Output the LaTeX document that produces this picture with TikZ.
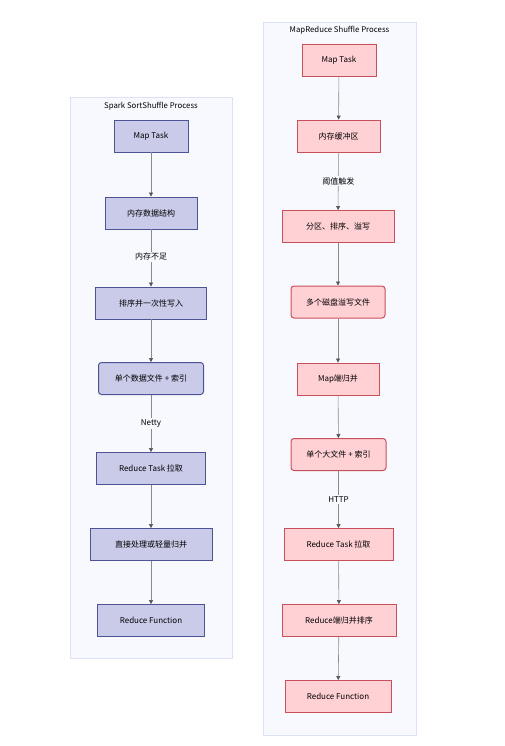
\documentclass[tikz,border=0pt]{standalone}
\usepackage{fontspec}
\setmainfont{Noto Sans CJK SC}
\usetikzlibrary{arrows.meta}
\definecolor{clfill}{HTML}{F8F9FF}
\definecolor{clline}{HTML}{DDE1F5}
\definecolor{bfill}{HTML}{C9CBE9}
\definecolor{bline}{HTML}{4E5396}
\definecolor{rfill}{HTML}{FFD0D4}
\definecolor{rline}{HTML}{C8505A}
\definecolor{edgec}{HTML}{8A8A8A}
\definecolor{tipc}{HTML}{555555}
\tikzset{
  cluster/.style={draw=clline, fill=clfill, line width=0.8pt},
  ctitle/.style={font=\fontsize{7.8}{9}\selectfont, text=black},
  bluebox/.style={draw=bline, fill=bfill, line width=0.8pt, minimum height=32pt, inner xsep=0pt, font=\fontsize{8}{9}\selectfont},
  redbox/.style={draw=rline, fill=rfill, line width=0.8pt, minimum height=32pt, inner xsep=0pt, font=\fontsize{8}{9}\selectfont},
  roundc/.style={rounded corners=3pt, line width=1pt},
  flow/.style={draw=edgec, line width=0.6pt, -{Triangle[length=4pt,width=4pt,color=tipc]}},
  elabel/.style={font=\fontsize{8}{9}\selectfont, fill=clfill, inner sep=1.5pt}
}
\begin{document}
\begin{tikzpicture}[x=1pt,y=-1pt]
\useasboundingbox (0,0) rectangle (504,746);
% clusters
\draw[cluster] (70,97) rectangle (232,658);
\node[ctitle] (ltitle) at (151,106) {Spark SortShuffle Process};
\draw[cluster] (263,22) rectangle (416,735);
\node[ctitle] (rtitle) at (339.5,30) {MapReduce Shuffle Process};
% left nodes
\node[bluebox, minimum width=74pt] (l1) at (151,136) {Map Task};
\node[bluebox, minimum width=92pt] (l2) at (151,213) {内存数据结构};
\node[bluebox, minimum width=111pt] (l3) at (151,303) {排序并一次性写入};
\node[bluebox, roundc, minimum width=105pt] (l4) at (151,378.5) {单个数据文件 + 索引};
\node[bluebox, minimum width=109pt] (l5) at (151,468.5) {Reduce Task 拉取};
\node[bluebox, minimum width=122pt] (l6) at (151,544.5) {直接处理或轻量归并};
\node[bluebox, minimum width=107pt] (l7) at (151,620.5) {Reduce Function};
% right nodes
\node[redbox, minimum width=74pt] (r1) at (339,60.5) {Map Task};
\node[redbox, minimum width=83pt] (r2) at (338.5,136) {内存缓冲区};
\node[redbox, minimum width=112pt] (r3) at (338,226.5) {分区、排序、溢写};
\node[redbox, roundc, minimum width=94pt] (r4) at (338,302) {多个磁盘溢写文件};
\node[redbox, minimum width=82pt] (r5) at (338,379) {Map端归并};
\node[redbox, roundc, minimum width=95pt] (r6) at (338.5,454.5) {单个大文件 + 索引};
\node[redbox, minimum width=109pt] (r7) at (338.5,544.5) {Reduce Task 拉取};
\node[redbox, minimum width=114pt] (r8) at (339,620.5) {Reduce端归并排序};
\node[redbox, minimum width=106pt] (r9) at (338,696.5) {Reduce Function};
% left edges
\draw[flow] (l1) -- (l2);
\draw[flow] (l2) -- node[elabel, pos=0.48] (lab1) {内存不足} (l3);
\draw[flow] (l3) -- (l4);
\draw[flow] (l4) -- node[elabel, pos=0.5] (lab2) {Netty} (l5);
\draw[flow] (l5) -- (l6);
\draw[flow] (l6) -- (l7);
% right edges
\draw[flow] (r1) -- (r2);
\draw[flow] (r2) -- node[elabel, pos=0.5] (lab3) {阈值触发} (r3);
\draw[flow] (r3) -- (r4);
\draw[flow] (r4) -- (r5);
\draw[flow] (r5) -- (r6);
\draw[flow] (r6) -- node[elabel, pos=0.5] (lab4) {HTTP} (r7);
\draw[flow] (r7) -- (r8);
\draw[flow] (r8) -- (r9);
\end{tikzpicture}
\end{document}
